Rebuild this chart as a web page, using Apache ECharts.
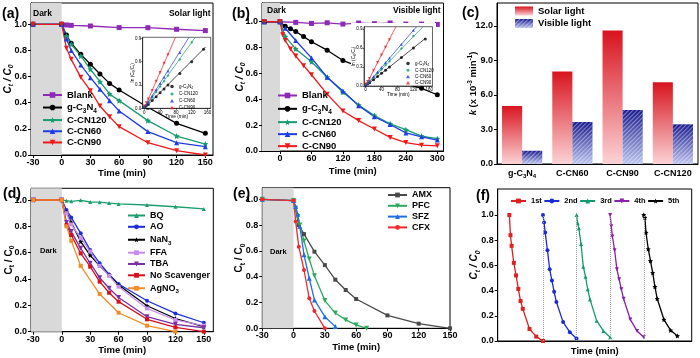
<!DOCTYPE html>
<html><head><meta charset="utf-8">
<script src="https://cdn.jsdelivr.net/npm/echarts@6/dist/echarts.min.js"></script>
<style>html,body{margin:0;padding:0;background:#fff}#c{width:700px;height:358px}</style>
</head><body><div id="c"></div>
<script>
const FF = 'Liberation Sans, Arial, sans-serif';

// ---------- Panel (a): solar light ----------
const aBlankTime = [-30, 0, 5, 10, 30, 60, 90, 120, 150];
const aBlank = [1.0, 1.0, 0.995, 0.992, 0.987, 0.975, 0.974, 0.962, 0.952];
const aTime = [-30, 0, 5, 10, 20, 30, 40, 50, 60, 90, 120, 150];
const aGCN = [1.0, 1.0, 0.918, 0.855, 0.77, 0.694, 0.62, 0.548, 0.497, 0.365, 0.242, 0.166];
const aCN120 = [1.0, 1.0, 0.91, 0.847, 0.758, 0.656, 0.561, 0.467, 0.416, 0.263, 0.145, 0.084];
const aCN60 = [1.0, 1.0, 0.888, 0.80, 0.689, 0.592, 0.503, 0.416, 0.337, 0.179, 0.094, 0.064];
const aCN90 = [1.0, 1.0, 0.816, 0.732, 0.594, 0.492, 0.375, 0.293, 0.217, 0.094, 0.033, 0.0];
const aXTicks = [-30, 0, 30, 60, 90, 120, 150];
const yTicks01 = [0, 0.2, 0.4, 0.6, 0.8, 1.0];
// inset (a): ln(C0/Ct) vs time
const insTime = [0, 5, 10, 20, 30, 40, 50, 60, 90, 120, 150];
const aInsGCN = [0.02, 0.03, 0.05, 0.1, 0.15, 0.2, 0.25, 0.3, 0.45, 0.6, 0.76];
const aInsCN120 = [0.02, 0.04, 0.07, 0.14, 0.21, 0.28, 0.35, 0.42, 0.63, 0.85];
const aInsCN60 = [0.02, 0.05, 0.08, 0.16, 0.24, 0.32, 0.4, 0.48, 0.72];
const aInsCN90 = [0.03, 0.07, 0.12, 0.23, 0.35, 0.46, 0.58, 0.69];
const aFitEndX = [155, 129, 113, 79];
const aFitEndY = [0.79, 0.915, 0.915, 0.915];

// ---------- Panel (b): visible light ----------
const bBlankTime = [-30, 0, 30, 60, 90, 120, 150, 180, 210, 240, 270, 300];
const bBlank = [1.0, 1.0, 0.995, 0.987, 0.992, 0.982, 0.99, 0.985, 0.99, 0.982, 0.982, 0.979];
const bGCNTime = [-30, 0, 10, 20, 30, 45, 60, 90, 120, 150, 180, 210, 240, 270, 300];
const bGCN = [1.0, 1.0, 0.965, 0.945, 0.925, 0.885, 0.845, 0.78, 0.70, 0.655, 0.60, 0.56, 0.52, 0.485, 0.435];
const bTime = [-30, 0, 10, 30, 60, 90, 120, 150, 180, 210, 240, 270, 300];
const bCN120 = [1.0, 1.0, 0.885, 0.79, 0.69, 0.57, 0.455, 0.355, 0.275, 0.21, 0.165, 0.115, 0.095];
const bCN60 = [1.0, 1.0, 0.95, 0.855, 0.72, 0.57, 0.465, 0.35, 0.265, 0.205, 0.14, 0.11, 0.085];
const bCN90Time = [-30, 0, 5, 10, 20, 30, 45, 60, 90, 120, 150, 180, 210, 240, 270, 300];
const bCN90 = [1.0, 1.0, 0.90, 0.855, 0.79, 0.735, 0.66, 0.59, 0.44, 0.31, 0.235, 0.17, 0.105, 0.065, 0.045, 0.04];
const bXTicks = [0, 60, 120, 180, 240, 300];
const bInsGCN = [0.02, 0.03, 0.05, 0.1, 0.15, 0.2, 0.25, 0.3, 0.45, 0.6, 0.74];
const bInsCN120 = [0.02, 0.04, 0.07, 0.13, 0.2, 0.26, 0.33, 0.39, 0.59, 0.79];
const bInsCN60 = [0.02, 0.04, 0.08, 0.15, 0.22, 0.29, 0.37, 0.44, 0.66, 0.88];
const bInsCN90 = [0.03, 0.07, 0.12, 0.24, 0.37, 0.49, 0.61, 0.73];
const bFitEndX = [150, 144, 128, 76];
const bFitEndY = [0.75, 0.935, 0.935, 0.935];
const insXTicks = [0, 40, 80, 120, 160];
const insYTicks = [0, 0.3, 0.6, 0.9];

// ---------- Panel (c): rate constants ----------
const cCats = ['g-C3N4', 'C-CN60', 'C-CN90', 'C-CN120'];
const cSolar = [5.05, 8.05, 11.6, 7.1];
const cVisible = [1.15, 3.65, 4.7, 3.45];
const cYTicks = [0, 3, 6, 9, 12];

// ---------- Panel (d): scavengers ----------
const dTime = [-30, 0, 5, 10, 20, 30, 40, 50, 60, 90, 120, 150];
const dBQ = [1.0, 1.0, 0.995, 0.99, 0.998, 0.985, 0.984, 0.977, 0.97, 0.962, 0.949, 0.932];
const dAO = [1.0, 1.0, 0.924, 0.868, 0.747, 0.62, 0.52, 0.435, 0.362, 0.235, 0.139, 0.068];
const dNaN3 = [1.0, 1.0, 0.91, 0.83, 0.684, 0.58, 0.5, 0.43, 0.354, 0.197, 0.1, 0.038];
const dFFA = [1.0, 1.0, 0.9, 0.815, 0.71, 0.61, 0.5, 0.425, 0.342, 0.177, 0.089, 0.046];
const dTBA = [1.0, 1.0, 0.83, 0.76, 0.633, 0.52, 0.41, 0.33, 0.26, 0.114, 0.056, 0.03];
const dNoSc = [1.0, 1.0, 0.81, 0.734, 0.595, 0.494, 0.38, 0.296, 0.228, 0.094, 0.033, 0.0];
const dAgTime = [-30, 0, 5, 10, 20, 40, 60, 90, 120];
const dAgNO3 = [1.0, 1.0, 0.80, 0.69, 0.50, 0.286, 0.144, 0.046, 0.0];
const dXTicks = [-30, 0, 30, 60, 90, 120, 150];

// ---------- Panel (e): antibiotics ----------
const eAMXTime = [-30, 0, 5, 10, 20, 30, 40, 50, 60, 90, 120, 150];
const eAMX = [1.0, 0.99, 0.80, 0.73, 0.594, 0.49, 0.377, 0.297, 0.227, 0.1, 0.036, 0.0];
const ePFCTime = [-30, 0, 2, 4, 6, 10, 15, 20, 30, 40, 50, 60, 70];
const ePFC = [1.0, 0.99, 0.93, 0.866, 0.80, 0.677, 0.537, 0.408, 0.215, 0.118, 0.065, 0.026, 0.0];
const eSFZTime = [-30, 0, 2, 4, 6, 10, 15, 20, 30, 40];
const eSFZ = [1.0, 0.99, 0.945, 0.885, 0.79, 0.57, 0.388, 0.22, 0.09, 0.013];
const eCFXTime = [-30, 0, 2, 5, 10, 15, 20, 30];
const eCFX = [1.0, 0.99, 0.827, 0.633, 0.452, 0.233, 0.134, 0.0];
const eXTicks = [-30, 0, 30, 60, 90, 120, 150];

// ---------- Panel (f): recycling ----------
const fCycleTime = [0, 5, 10, 20, 30, 40, 50, 60, 90, 120, 150];
const fCycleStart = [0, 150, 300, 450, 600];
const fCycle1 = [1.0, 0.84, 0.755, 0.62, 0.52, 0.413, 0.317, 0.255, 0.095, 0.035, 0.0];
const fCycle2 = [1.0, 0.94, 0.86, 0.72, 0.57, 0.48, 0.39, 0.31, 0.15, 0.07, 0.02];
const fCycle3 = [1.0, 0.935, 0.895, 0.77, 0.59, 0.51, 0.41, 0.33, 0.16, 0.08, 0.03];
const fCycle4 = [1.0, 0.91, 0.83, 0.72, 0.57, 0.49, 0.41, 0.335, 0.17, 0.08, 0.03];
const fCycle5 = [1.0, 0.98, 0.86, 0.73, 0.635, 0.54, 0.43, 0.335, 0.17, 0.085, 0.04];
const fBoundaries = [150, 300, 450, 600];

// ---------- styling helpers ----------
const STAR = 'path://M0,-10L2.9,-4L9.5,-3.1L4.7,1.5L5.9,8.1L0,5L-5.9,8.1L-4.7,1.5L-9.5,-3.1L-2.9,-4Z';
const LABELS = {'g-C3N4': '{m|g-C}{s|3}{m|N}{s|4}', 'NaN3': '{m|NaN}{s|3}', 'AgNO3': '{m|AgNO}{s|3}'};
function fmtName(n) { const t = n.indexOf(':') >= 0 ? n.slice(n.indexOf(':') + 1) : n; return LABELS[t] || '{m|' + t + '}'; }
function rich(size, italic, weight) {
  const st = italic ? 'italic' : 'normal', w = weight || 'bold';
  return {
    m: {fontSize: size, fontWeight: w, fontStyle: st, fontFamily: FF, color: '#000'},
    n: {fontSize: size, fontWeight: w, fontStyle: 'italic', fontFamily: FF, color: '#000'},
    s: {fontSize: size * 0.68, fontWeight: w, fontStyle: st, fontFamily: FF, color: '#000', lineHeight: size * 0.7, padding: [size * 0.7, 0, 0, 0]},
    p: {fontSize: size * 0.68, fontWeight: w, fontStyle: st, fontFamily: FF, color: '#000', lineHeight: size * 0.7, padding: [0, 0, size * 0.6, 0]}
  };
}
const pts = (xs, ys) => ys.map((y, i) => [xs[i], y]);
const shift = (xs, off) => xs.map(x => x + off);

function line(name, gi, xs, ys, color, symbol, extra) {
  return Object.assign({
    type: 'line', name, xAxisIndex: gi, yAxisIndex: gi, data: pts(xs, ys),
    symbol, symbolSize: 5, showSymbol: true, lineStyle: {color, width: 1.3}, itemStyle: {color},
    animation: false, z: 3, clip: true
  }, extra || {});
}
function dark(minX) {
  return {silent: true, itemStyle: {color: '#d9d9d9'}, data: [[{xAxis: minX}, {xAxis: 0}]]};
}
function xAx(gi, min, max, ticks, nameGap, extra) {
  return Object.assign({
    type: 'value', gridIndex: gi, min, max,
    axisLine: {show: true, onZero: false, lineStyle: {color: '#000', width: 1}},
    axisTick: {show: true, length: 3, customValues: ticks, lineStyle: {color: '#000'}},
    axisLabel: {customValues: ticks, fontSize: 9, fontWeight: 'bold', fontFamily: FF, color: '#000', margin: 3},
    splitLine: {show: false},
    name: 'Time (min)', nameLocation: 'middle', nameGap, nameMoveOverlap: false,
    nameTextStyle: {fontSize: 9.5, fontWeight: 'bold', fontFamily: FF, color: '#000'}
  }, extra || {});
}
function yAx(gi, min, max, ticks, nameGap, italic, extra) {
  return Object.assign({
    type: 'value', gridIndex: gi, min, max,
    axisLine: {show: true, onZero: false, lineStyle: {color: '#000', width: 1}},
    axisTick: {show: true, length: 3, customValues: ticks, lineStyle: {color: '#000'}},
    axisLabel: {customValues: ticks, fontSize: 9, fontWeight: 'bold', fontFamily: FF, color: '#000', margin: 4, formatter: v => v.toFixed(1)},
    splitLine: {show: false},
    name: '{m|C}{s|t}{m| / C}{s|0}', nameLocation: 'middle', nameGap, nameRotate: 90, nameMoveOverlap: false,
    nameTextStyle: {rich: rich(10, italic)}
  }, extra || {});
}
function insX(gi) {
  return {type: 'value', gridIndex: gi, min: -4, max: 168, z: 11,
    axisLine: {show: true, onZero: false, lineStyle: {color: '#000', width: 0.6}},
    axisTick: {show: true, length: 1.5, customValues: insXTicks, lineStyle: {color: '#000', width: 0.6}},
    axisLabel: {customValues: insXTicks, fontSize: 4.5, fontFamily: FF, color: '#000', margin: 1.5},
    splitLine: {show: false}, name: 'Time (min)', nameLocation: 'middle', nameGap: 6, nameMoveOverlap: false,
    nameTextStyle: {fontSize: 4.8, fontFamily: FF, color: '#000'}};
}
function insY(gi, max) {
  return {type: 'value', gridIndex: gi, min: 0, max, z: 11,
    axisLine: {show: true, onZero: false, lineStyle: {color: '#000', width: 0.6}},
    axisTick: {show: true, length: 1.5, customValues: insYTicks, lineStyle: {color: '#000', width: 0.6}},
    axisLabel: {customValues: insYTicks, fontSize: 4.5, fontFamily: FF, color: '#000', margin: 1.5, formatter: v => v.toFixed(1)},
    splitLine: {show: false}, name: '{m|ln (C}{s|0}{m|/C}{s|t}{m|)}', nameLocation: 'middle', nameGap: 8, nameRotate: 90, nameMoveOverlap: false,
    nameTextStyle: {rich: rich(4.8, false, 'normal')}};
}
function insSeries(prefix, gi, lists, fitX, fitY) {
  const cols = ['#000000', '#189c70', '#1e3ce6', '#f01818'];
  const syms = ['circle', 'diamond', 'triangle', 'triangle'];
  const rots = [0, 0, 0, 180];
  const names = ['g-C3N4', 'C-CN120', 'C-CN60', 'C-CN90'];
  const out = [];
  lists.forEach((ys, k) => {
    out.push({type: 'line', xAxisIndex: gi, yAxisIndex: gi, data: [[0, 0], [fitX[k], fitY[k]]], showSymbol: false, symbol: 'none',
      lineStyle: {color: cols[k], width: 0.7}, z: 12, animation: false, silent: true, clip: true});
    out.push({type: 'scatter', name: prefix + names[k], xAxisIndex: gi, yAxisIndex: gi, data: pts(insTime, ys),
      symbol: syms[k], symbolRotate: rots[k], symbolSize: 3, itemStyle: {color: cols[k]}, z: 13, animation: false, clip: true});
  });
  return out;
}

const C = {blank: '#8e2ab5', gcn: '#000000', cn120: '#189c70', cn60: '#1e3ce6', cn90: '#f01818'};
const legendText = size => ({fontSize: size, fontWeight: 'bold', fontFamily: FF, color: '#000', rich: rich(size, false)});

const series = [
  // (a)
  line('a:Blank', 0, aBlankTime, aBlank, C.blank, 'rect', {markArea: dark(-32)}),
  line('a:g-C3N4', 0, aTime, aGCN, C.gcn, 'circle'),
  line('a:C-CN120', 0, aTime, aCN120, C.cn120, STAR, {symbolSize: 6}),
  line('a:C-CN60', 0, aTime, aCN60, C.cn60, 'triangle'),
  line('a:C-CN90', 0, aTime, aCN90, C.cn90, 'triangle', {symbolRotate: 180}),
  // (b)
  line('b:Blank', 1, bBlankTime, bBlank, C.blank, 'rect', {markArea: dark(-34.3)}),
  line('b:g-C3N4', 1, bGCNTime, bGCN, C.gcn, 'circle'),
  line('b:C-CN120', 1, bTime, bCN120, C.cn120, STAR, {symbolSize: 6}),
  line('b:C-CN60', 1, bTime, bCN60, C.cn60, 'triangle'),
  line('b:C-CN90', 1, bCN90Time, bCN90, C.cn90, 'triangle', {symbolRotate: 180}),
  // (c)
  {type: 'bar', name: 'Solar light', xAxisIndex: 2, yAxisIndex: 2, data: cSolar, barGap: '0%', barCategoryGap: '20%', animation: false,
    itemStyle: {color: new echarts.graphic.LinearGradient(0, 0, 0, 1, [{offset: 0, color: '#d8141e'}, {offset: 1, color: '#fcd3d6'}])}},
  {type: 'bar', name: 'Visible light', xAxisIndex: 2, yAxisIndex: 2, data: cVisible, barGap: '0%', barCategoryGap: '20%', animation: false,
    itemStyle: {color: new echarts.graphic.LinearGradient(0, 0, 0, 1, [{offset: 0, color: '#1a1a8e'}, {offset: 1, color: '#bcc4ee'}]),
      decal: {symbol: 'rect', symbolSize: 1, dashArrayX: [1, 0], dashArrayY: [1, 2], rotation: -Math.PI / 4, color: 'rgba(255,255,255,0.4)'}}},
  // (d)
  line('d:BQ', 3, dTime, dBQ, '#1e9e6e', 'triangle', {symbolSize: 4, markArea: dark(-32.5)}),
  line('d:AO', 3, dTime, dAO, '#1a2ee0', 'circle', {symbolSize: 4}),
  line('d:NaN3', 3, dTime, dNaN3, '#000000', STAR, {symbolSize: 5}),
  line('d:FFA', 3, dTime, dFFA, '#c78cf0', 'rect', {symbolSize: 4}),
  line('d:TBA', 3, dTime, dTBA, '#7b2fa6', 'triangle', {symbolSize: 5, symbolRotate: 180}),
  line('d:No Scavenger', 3, dTime, dNoSc, '#d6101a', 'rect', {symbolSize: 4}),
  line('d:AgNO3', 3, dAgTime, dAgNO3, '#f28c28', 'rect', {symbolSize: 4}),
  // (e)
  line('e:AMX', 4, eAMXTime, eAMX, '#4a4a4a', 'rect', {symbolSize: 4, markArea: dark(-30)}),
  line('e:PFC', 4, ePFCTime, ePFC, '#2eaa5e', 'triangle', {symbolSize: 5, symbolRotate: 180}),
  line('e:SFZ', 4, eSFZTime, eSFZ, '#1f6fe0', 'triangle', {symbolSize: 5}),
  line('e:CFX', 4, eCFXTime, eCFX, '#f02a2a', 'circle', {symbolSize: 4}),
  // (f)
  line('f:1st', 5, shift(fCycleTime, fCycleStart[0]), fCycle1, '#e01f1f', 'rect', {symbolSize: 4,
    markLine: {silent: true, symbol: 'none', label: {show: false}, lineStyle: {type: 'dotted', color: '#9a9a9a', width: 1},
      data: fBoundaries.map(b => [{coord: [b, 0]}, {coord: [b, 1.0]}])}}),
  line('f:2nd', 5, shift(fCycleTime, fCycleStart[1]), fCycle2, '#1a2ad6', 'circle', {symbolSize: 4}),
  line('f:3rd', 5, shift(fCycleTime, fCycleStart[2]), fCycle3, '#129a6e', 'triangle', {symbolSize: 4}),
  line('f:4th', 5, shift(fCycleTime, fCycleStart[3]), fCycle4, '#8a1faa', 'triangle', {symbolSize: 4, symbolRotate: 180}),
  line('f:5th', 5, shift(fCycleTime, fCycleStart[4]), fCycle5, '#000000', STAR, {symbolSize: 5})
].concat(
  insSeries('ia:', 6, [aInsGCN, aInsCN120, aInsCN60, aInsCN90], aFitEndX, aFitEndY),
  insSeries('ib:', 7, [bInsGCN, bInsCN120, bInsCN60, bInsCN90], bFitEndX, bFitEndY)
);

const frame = {show: true, borderColor: '#000', borderWidth: 1, backgroundColor: 'transparent'};
const option = {
  animation: false,
  grid: [
    Object.assign({left: 29, top: 3, width: 184, height: 152}, frame),
    Object.assign({left: 262, top: 3, width: 181.5, height: 148}, frame),
    Object.assign({left: 497, top: 3, width: 201, height: 161}, frame),
    Object.assign({left: 31, top: 188.3, width: 182.3, height: 143.4}, frame),
    Object.assign({left: 262.3, top: 187.7, width: 187.7, height: 140.6}, frame),
    Object.assign({left: 497.7, top: 189, width: 194, height: 152}, frame),
    {show: true, left: 142.7, top: 37.3, width: 68, height: 71, borderColor: '#000', borderWidth: 0.6, backgroundColor: '#fff', z: 10},
    {show: true, left: 364, top: 26.7, width: 68.5, height: 59.3, borderColor: '#000', borderWidth: 0.6, backgroundColor: '#fff', z: 10}
  ],
  xAxis: [
    xAx(0, -32, 158, aXTicks, 13),
    xAx(1, -34.3, 311.8, bXTicks, 15),
    {type: 'category', gridIndex: 2, data: cCats, axisLine: {show: true, lineStyle: {color: '#000'}}, axisTick: {show: false},
      axisLabel: {interval: 0, formatter: fmtName, rich: rich(9, false), margin: 5}},
    xAx(3, -32.5, 160, dXTicks, 14),
    xAx(4, -30, 150, eXTicks, 14),
    xAx(5, -52, 814, [], 5, {axisLabel: {show: false}, axisTick: {show: false}}),
    insX(6), insX(7)
  ],
  yAxis: [
    yAx(0, 0, 1.163, yTicks01, 18, true),
    yAx(1, 0, 1.145, yTicks01, 17, true),
    {type: 'value', gridIndex: 2, min: 0, max: 14,
      axisLine: {show: true, lineStyle: {color: '#000'}},
      axisTick: {show: true, length: 3, customValues: cYTicks, lineStyle: {color: '#000'}},
      axisLabel: {customValues: cYTicks, fontSize: 9, fontWeight: 'bold', fontFamily: FF, color: '#000', margin: 4, formatter: v => v.toFixed(1)},
      splitLine: {show: false},
      name: '{n|k}{m| (x 10}{p|-3}{m| min}{p|-1}{m|)}', nameLocation: 'middle', nameGap: 19, nameRotate: 90, nameMoveOverlap: false,
      nameTextStyle: {rich: rich(9.5, false)}},
    yAx(3, 0, 1.089, yTicks01, 17, false),
    yAx(4, 0, 1.09, yTicks01, 18, false),
    yAx(5, 0, 1.206, yTicks01, 18, true),
    insY(6, 0.915), insY(7, 0.935)
  ],
  legend: [
    {data: ['a:Blank', 'a:g-C3N4', 'a:C-CN120', 'a:C-CN60', 'a:C-CN90'], left: 42, top: 90, orient: 'vertical', itemWidth: 19, itemHeight: 7, itemGap: 1.2,
      padding: 0, formatter: fmtName, textStyle: legendText(9.5), selectedMode: false},
    {data: ['b:Blank', 'b:g-C3N4', 'b:C-CN120', 'b:C-CN60', 'b:C-CN90'], left: 277, top: 90.5, orient: 'vertical', itemWidth: 19, itemHeight: 7, itemGap: 2,
      padding: 0, formatter: fmtName, textStyle: legendText(9.5), selectedMode: false},
    {data: ['Solar light', 'Visible light'], left: 515, top: 6, orient: 'vertical', itemWidth: 18, itemHeight: 9, itemGap: 2.5, icon: 'rect',
      padding: 0, textStyle: {fontSize: 9.5, fontWeight: 'bold', fontFamily: FF, color: '#000'}, selectedMode: false},
    {data: ['d:BQ', 'd:AO', 'd:NaN3', 'd:FFA', 'd:TBA', 'd:No Scavenger', 'd:AgNO3'], left: 127, top: 211, orient: 'vertical', itemWidth: 17, itemHeight: 6,
      itemGap: 2.3, padding: 0, formatter: fmtName, textStyle: legendText(9), selectedMode: false},
    {data: ['e:AMX', 'e:PFC', 'e:SFZ', 'e:CFX'], left: 387, top: 190.5, orient: 'vertical', itemWidth: 19, itemHeight: 6, itemGap: 1.8,
      padding: 0, formatter: fmtName, textStyle: legendText(9), selectedMode: false},
    {data: ['f:1st', 'f:2nd', 'f:3rd', 'f:4th', 'f:5th'], left: 510, top: 197, orient: 'horizontal', itemWidth: 15, itemHeight: 6, itemGap: 1.5,
      padding: 0, formatter: fmtName, textStyle: legendText(7.5), selectedMode: false},
    {data: ['ia:g-C3N4', 'ia:C-CN120', 'ia:C-CN60', 'ia:C-CN90'], left: 170, top: 83.5, orient: 'vertical', itemWidth: 4, itemHeight: 3.5, itemGap: 1.8,
      padding: 0, formatter: fmtName, textStyle: Object.assign(legendText(4.5), {rich: rich(4.5, false, 'normal'), fontWeight: 'normal'}), selectedMode: false, z: 14},
    {data: ['ib:g-C3N4', 'ib:C-CN120', 'ib:C-CN60', 'ib:C-CN90'], left: 406, top: 60.5, orient: 'vertical', itemWidth: 4, itemHeight: 3.5, itemGap: 1.2,
      padding: 0, formatter: fmtName, textStyle: Object.assign(legendText(4.5), {rich: rich(4.5, false, 'normal'), fontWeight: 'normal'}), selectedMode: false, z: 14}
  ],
  graphic: [
    {type: 'rect', shape: {x: 351, y: 23, width: 85, height: 63}, style: {fill: '#fff'}, z: 5, silent: true},
    {type: 'text', x: 2, y: 14, style: {text: '(a)', font: 'bold 14px ' + FF, fill: '#000', textVerticalAlign: 'middle'}, z: 20},
    {type: 'text', x: 232, y: 14, style: {text: '(b)', font: 'bold 14px ' + FF, fill: '#000', textVerticalAlign: 'middle'}, z: 20},
    {type: 'text', x: 462, y: 13, style: {text: '(c)', font: 'bold 14px ' + FF, fill: '#000', textVerticalAlign: 'middle'}, z: 20},
    {type: 'text', x: 3, y: 194, style: {text: '(d)', font: 'bold 14px ' + FF, fill: '#000', textVerticalAlign: 'middle'}, z: 20},
    {type: 'text', x: 233, y: 194, style: {text: '(e)', font: 'bold 14px ' + FF, fill: '#000', textVerticalAlign: 'middle'}, z: 20},
    {type: 'text', x: 476, y: 196, style: {text: '(f)', font: 'bold 14px ' + FF, fill: '#000', textVerticalAlign: 'middle'}, z: 20},
    {type: 'text', x: 33, y: 13.5, style: {text: 'Dark', font: 'bold 8.5px ' + FF, fill: '#000', textVerticalAlign: 'middle'}, z: 20},
    {type: 'text', x: 210.5, y: 13.5, style: {text: 'Solar light', font: 'bold 8.5px ' + FF, fill: '#000', textAlign: 'right', textVerticalAlign: 'middle'}, z: 20},
    {type: 'text', x: 267, y: 10.5, style: {text: 'Dark', font: 'bold 8.5px ' + FF, fill: '#000', textVerticalAlign: 'middle'}, z: 20},
    {type: 'text', x: 440.5, y: 11, style: {text: 'Visible light', font: 'bold 8.5px ' + FF, fill: '#000', textAlign: 'right', textVerticalAlign: 'middle'}, z: 20},
    {type: 'text', x: 40, y: 251, style: {text: 'Dark', font: 'bold 7.5px ' + FF, fill: '#000', textVerticalAlign: 'middle'}, z: 20},
    {type: 'text', x: 270, y: 252, style: {text: 'Dark', font: 'bold 7.5px ' + FF, fill: '#000', textVerticalAlign: 'middle'}, z: 20}
  ],
  series
};
const chart = echarts.init(document.getElementById('c'), null, {renderer: 'canvas', width: 700, height: 358});
chart.setOption(option);
</script></body></html>
